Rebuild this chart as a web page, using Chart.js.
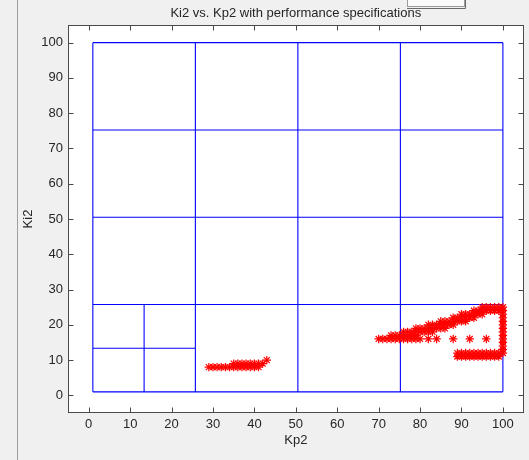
<!DOCTYPE html>
<html>
<head>
<meta charset="utf-8">
<script src="https://cdn.jsdelivr.net/npm/chart.js@4/dist/chart.umd.min.js"></script>
<style>
  html, body { margin: 0; padding: 0; background: #f0f0f0; }
  #wrap { width: 529px; height: 460px; position: relative; }
</style>
</head>
<body>
<div id="wrap"><canvas id="c" width="529" height="460"></canvas></div>
<script>
// ---- labels and ticks ----
const chartTitle = 'Ki2 vs. Kp2 with performance specifications';
const xLabel = 'Kp2';
const yLabel = 'Ki2';
const xTicks = [0, 10, 20, 30, 40, 50, 60, 70, 80, 90, 100];
const yTicks = [0, 10, 20, 30, 40, 50, 60, 70, 80, 90, 100];

// ---- search-space partition (cell boundaries) ----
const cellEdgesKp2 = [1, 25.75, 50.5, 75.25, 100];
const cellEdgesKi2 = [1, 25.75, 50.5, 75.25, 100];
const subCellEdgesKp2 = [1, 13.375, 25.75];
const subCellEdgesKi2 = [1, 13.375, 25.75];

// ---- gain pairs meeting the performance specifications ----
const lowGainPoints = [
  [29, 8], [30, 8], [31, 8], [32, 8], [33, 8], [34, 8], [35, 8], [36, 8], [37, 8],
  [38, 8], [39, 8], [40, 8], [41, 8],
  [35, 9], [36, 9], [37, 9], [38, 9], [39, 9], [40, 9], [41, 9], [42, 9],
  [43, 10]
];
const highGainPoints = [
  [70, 16], [71, 16], [72, 16], [73, 16], [74, 16], [75, 16], [76, 16], [77, 16],
  [78, 16], [79, 16], [80, 16], [82, 16], [84, 16], [88, 16], [92, 16], [96, 16],
  [73, 17], [74, 17], [75, 17], [76, 17], [77, 17], [78, 17], [79, 17],
  [76, 18], [77, 18], [78, 18], [79, 18], [80, 18], [81, 18], [82, 18], [83, 18],
  [79, 19], [80, 19], [81, 19], [82, 19], [83, 19], [84, 19], [85, 19], [86, 19],
  [82, 20], [83, 20], [84, 20], [85, 20], [86, 20], [87, 20], [88, 20],
  [85, 21], [86, 21], [87, 21], [88, 21], [89, 21], [90, 21], [91, 21],
  [88, 22], [89, 22], [90, 22], [91, 22], [92, 22], [93, 22],
  [90, 23], [91, 23], [92, 23], [93, 23], [94, 23], [95, 23],
  [93, 24], [94, 24], [95, 24], [96, 24], [97, 24], [98, 24], [99, 24], [100, 24],
  [95, 25], [96, 25], [97, 25], [98, 25], [99, 25], [100, 25],
  [100, 13], [100, 14], [100, 15], [100, 16], [100, 17], [100, 18], [100, 19],
  [100, 20], [100, 21], [100, 22], [100, 23],
  [89, 12], [90, 12], [91, 12], [92, 12], [93, 12], [94, 12], [95, 12], [96, 12],
  [97, 12], [98, 12], [99, 12], [100, 12],
  [89, 11], [90, 11], [91, 11], [92, 11], [93, 11], [94, 11], [95, 11], [96, 11],
  [97, 11], [98, 11], [99, 11]
];

const FONT = '"Liberation Sans", Arial, Helvetica, sans-serif';
const TEXT = '#262626';
const LINE_BLUE = '#0000ff';

// all partition lines in one dataset, separated by gap points
const partitionPath = [];
function addSegment(x0, y0, x1, y1) {
  partitionPath.push({ x: x0, y: y0 }, { x: x1, y: y1 }, { x: null, y: null });
}
const kpLo = cellEdgesKp2[0], kpHi = cellEdgesKp2[cellEdgesKp2.length - 1];
const kiLo = cellEdgesKi2[0], kiHi = cellEdgesKi2[cellEdgesKi2.length - 1];
cellEdgesKp2.forEach(v => addSegment(v, kiLo, v, kiHi));
cellEdgesKi2.forEach(v => addSegment(kpLo, v, kpHi, v));
const sKpLo = subCellEdgesKp2[0], sKpHi = subCellEdgesKp2[subCellEdgesKp2.length - 1];
const sKiLo = subCellEdgesKi2[0], sKiHi = subCellEdgesKi2[subCellEdgesKi2.length - 1];
subCellEdgesKp2.slice(1, -1).forEach(v => addSegment(v, sKiLo, v, sKiHi));
subCellEdgesKi2.slice(1, -1).forEach(v => addSegment(sKpLo, v, sKpHi, v));

const partitionSet = {
  type: 'scatter',
  data: partitionPath,
  showLine: true,
  spanGaps: false,
  borderColor: LINE_BLUE,
  backgroundColor: LINE_BLUE,
  borderWidth: 1.1,
  pointRadius: 0,
  pointHoverRadius: 0,
  fill: false,
  order: 2
};

function starSet(points) {
  return {
    type: 'scatter',
    data: points.map(p => ({ x: p[0], y: p[1] })),
    pointStyle: 'star',
    pointRadius: 4.2,
    pointHoverRadius: 4.2,
    borderColor: '#ff0000',
    backgroundColor: '#ff0000',
    borderWidth: 1.2,
    showLine: false,
    order: 0
  };
}

// figure background, window edge, title and the axes box with inward ticks
const figurePlugin = {
  id: 'figurePlugin',
  beforeDraw(chart) {
    const { ctx, chartArea: a, width, height } = chart;
    ctx.save();
    ctx.fillStyle = '#f0f0f0';
    ctx.fillRect(0, 0, width, height);
    ctx.fillStyle = '#ffffff';
    ctx.fillRect(a.left, a.top, a.right - a.left, a.bottom - a.top);
    ctx.strokeStyle = '#a0a0a0';
    ctx.lineWidth = 1;
    ctx.beginPath();
    ctx.moveTo(17.5, 0);
    ctx.lineTo(17.5, height);
    ctx.stroke();
    // small toolbar box at the top
    ctx.fillStyle = '#fafafa';
    ctx.fillRect(407, 0, 58, 7);
    ctx.strokeStyle = '#9a9a9a';
    ctx.strokeRect(407.5, -1.5, 57, 8);
    ctx.strokeStyle = '#6a6a6a';
    ctx.beginPath();
    ctx.moveTo(465.5, 0); ctx.lineTo(465.5, 8.5); ctx.lineTo(407, 8.5);
    ctx.stroke();
    // title
    ctx.fillStyle = TEXT;
    ctx.font = '13px ' + FONT;
    ctx.textAlign = 'center';
    ctx.textBaseline = 'alphabetic';
    ctx.fillText(chartTitle, (a.left + a.right) / 2, 17);
    ctx.restore();
  },
  afterDraw(chart) {
    const { ctx, chartArea: a, scales: { x, y } } = chart;
    ctx.save();
    ctx.strokeStyle = '#4a4a4a';
    ctx.lineWidth = 1;
    const L = Math.round(a.left) + 0.5, R = Math.round(a.right) - 0.5;
    const T = Math.round(a.top) + 0.5, B = Math.round(a.bottom) - 0.5;
    ctx.strokeRect(L, T, R - L, B - T);
    ctx.beginPath();
    xTicks.forEach(v => {
      const px = Math.round(x.getPixelForValue(v)) + 0.5;
      ctx.moveTo(px, B); ctx.lineTo(px, B - 5);
      ctx.moveTo(px, T); ctx.lineTo(px, T + 5);
    });
    yTicks.forEach(v => {
      const py = Math.round(y.getPixelForValue(v)) + 0.5;
      ctx.moveTo(L, py); ctx.lineTo(L + 5, py);
      ctx.moveTo(R, py); ctx.lineTo(R - 5, py);
    });
    ctx.stroke();
    ctx.restore();
  }
};

new Chart(document.getElementById('c'), {
  type: 'scatter',
  data: {
    datasets: [starSet(lowGainPoints), starSet(highGainPoints), partitionSet]
  },
  options: {
    responsive: false,
    animation: false,
    devicePixelRatio: 1,
    events: [],
    layout: { padding: { top: 25, right: 2, left: 0, bottom: 0 } },
    plugins: {
      colors: { enabled: false },
      legend: { display: false },
      tooltip: { enabled: false },
      title: { display: false }
    },
    scales: {
      x: {
        type: 'linear',
        position: 'bottom',
        min: -5,
        max: 105,
        afterBuildTicks: s => { s.ticks = xTicks.map(v => ({ value: v })); },
        afterFit: s => { s.height = 47; },
        grid: { display: false, drawTicks: false },
        border: { display: false },
        ticks: { padding: 4, color: TEXT, maxRotation: 0, autoSkip: false, font: { family: FONT, size: 13 } },
        title: { display: true, text: xLabel, color: TEXT, font: { family: FONT, size: 13 }, padding: { top: 0, bottom: 12 } }
      },
      y: {
        type: 'linear',
        position: 'left',
        min: -5,
        max: 105,
        afterBuildTicks: s => { s.ticks = yTicks.map(v => ({ value: v })); },
        afterFit: s => { s.width = 68; },
        grid: { display: false, drawTicks: false },
        border: { display: false },
        ticks: { padding: 5, color: TEXT, autoSkip: false, font: { family: FONT, size: 13 } },
        title: { display: true, text: yLabel, color: TEXT, font: { family: FONT, size: 13 }, padding: { top: 21, bottom: 0 } }
      }
    }
  },
  plugins: [figurePlugin]
});
</script>
</body>
</html>
